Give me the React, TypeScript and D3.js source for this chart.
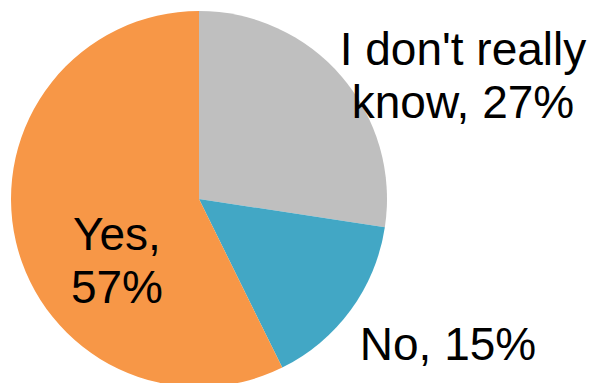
import React from "react";
import * as d3 from "d3";

const categories = ["I don't really know", "No", "Yes"];
const values = [27.4, 15.3, 57.3];
const colors = ["#BFBFBF", "#42A7C5", "#F79747"];
const labelLines = [
  ["I don't really", "know, 27%"],
  ["No, 15%"],
  ["Yes,", "57%"],
];

const W = 596;
const H = 383;

export default function App() {
  const cx = 199;
  const cy = 199;
  const r = 188;
  const pie = d3.pie<number>().sort(null).value((d) => d)(values);
  const arc = d3.arc<d3.PieArcDatum<number>>().innerRadius(0).outerRadius(r);
  const labelPos: [number, number][] = [
    [cx + 264, 65],
    [cx + 249, 360],
    [cx - 82, 250],
  ];
  const lineH = 53;
  return (
    <svg
      width={W}
      height={H}
      style={{ position: "fixed", left: 0, top: 0, background: "#fff" }}
      fontFamily="Arial, 'Liberation Sans', sans-serif"
    >
      <g transform={`translate(${cx},${cy})`}>
        {pie.map((p, i) => (
          <path key={categories[i]} d={arc(p) || ""} fill={colors[i]} />
        ))}
      </g>
      {labelLines.map((lines, i) => (
        <text
          key={categories[i]}
          x={labelPos[i][0]}
          y={labelPos[i][1]}
          textAnchor="middle"
          fontSize={46}
          fill="#000"
        >
          {lines.map((l, j) => (
            <tspan key={j} x={labelPos[i][0]} dy={j === 0 ? 0 : lineH}>
              {l}
            </tspan>
          ))}
        </text>
      ))}
    </svg>
  );
}
